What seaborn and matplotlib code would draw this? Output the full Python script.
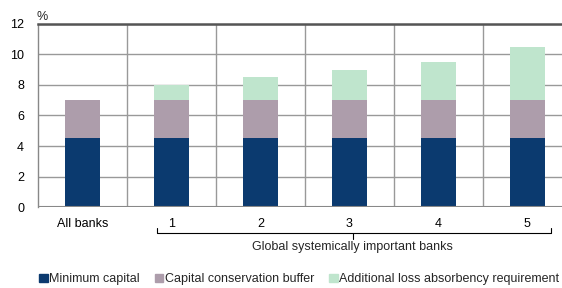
import numpy as np
import pandas as pd
import matplotlib
matplotlib.use("Agg")
import matplotlib.pyplot as plt
import seaborn as sns

categories = ["All banks", "1", "2", "3", "4", "5"]
minimum_capital = [4.5, 4.5, 4.5, 4.5, 4.5, 4.5]
conservation_buffer = [2.5, 2.5, 2.5, 2.5, 2.5, 2.5]
additional_loss = [0.0, 1.0, 1.5, 2.0, 2.5, 3.5]
series_names = ["Minimum capital", "Capital conservation buffer",
                "Additional loss absorbency requirement"]
colors = ["#0b3a6f", "#ad9dab", "#bfe5cd"]

sns.set_style("white")
plt.rcParams["font.family"] = ["Liberation Sans", "DejaVu Sans"]
plt.rcParams["font.size"] = 8.5

fig = plt.figure(figsize=(5.62, 2.88), dpi=100)
ax = fig.add_axes([0.0676, 0.281, 1.0 - 0.0676, 0.636])

df = pd.DataFrame({"cat": categories, "min": minimum_capital,
                   "buf": conservation_buffer, "add": additional_loss})
df["total2"] = df["min"] + df["buf"]
df["total3"] = df["total2"] + df["add"]

# stacked: draw tallest first
sns.barplot(data=df, x="cat", y="total3", color=colors[2], width=0.4,
            saturation=1, ax=ax, zorder=3, edgecolor="none")
sns.barplot(data=df, x="cat", y="total2", color=colors[1], width=0.4,
            saturation=1, ax=ax, zorder=3, edgecolor="none")
sns.barplot(data=df, x="cat", y="min", color=colors[0], width=0.4,
            saturation=1, ax=ax, zorder=3, edgecolor="none")

ax.set_ylim(0, 12)
ax.set_yticks(np.arange(0, 13, 2))
ax.set_xlim(-0.5, 5.39)
ax.set_xlabel("")
ax.set_ylabel("")
ax.yaxis.grid(True, color="#999999", linewidth=1.0, zorder=0)
for b in np.arange(0.5, 5.0, 1.0):
    ax.axvline(b, color="#999999", linewidth=1.0, zorder=0)
for s in ["right", "bottom"]:
    ax.spines[s].set_visible(False)
ax.spines["top"].set_color("#555555")
ax.spines["top"].set_linewidth(1.8)
ax.spines["left"].set_color("#888888")
ax.spines["left"].set_linewidth(1.0)
ax.axhline(0, color="#888888", linewidth=1.5, zorder=4)
ax.tick_params(axis="both", length=0, pad=10, labelsize=9, colors="black")
ax.tick_params(axis="x", pad=8)
ax.text(-0.52, 12.05, "%", transform=ax.transData, fontsize=9, ha="left", va="bottom")

# bracket under G-SIB categories
tr = ax.get_xaxis_transform()
yb = -0.142
ax.plot([0.84, 0.84, 5.27, 5.27], [yb + 0.03, yb, yb, yb + 0.03],
        transform=tr, color="black", linewidth=0.8, clip_on=False)
ax.plot([3.04, 3.04], [yb, yb - 0.03], transform=tr, color="black",
        linewidth=0.8, clip_on=False)
ax.text(3.04, yb - 0.045, "Global systemically important banks", transform=tr,
        ha="center", va="top", fontsize=9)

handles = [plt.Rectangle((0, 0), 1, 1, color=c) for c in colors]
fig.legend(handles, series_names, loc="center", ncol=3, frameon=False,
           bbox_to_anchor=(0.533, 0.03), fontsize=9, handlelength=0.65,
           handleheight=0.65, handletextpad=0.15, columnspacing=1.2,
           borderpad=0.2, borderaxespad=0.2)

fig.savefig("out.png", dpi=100)
